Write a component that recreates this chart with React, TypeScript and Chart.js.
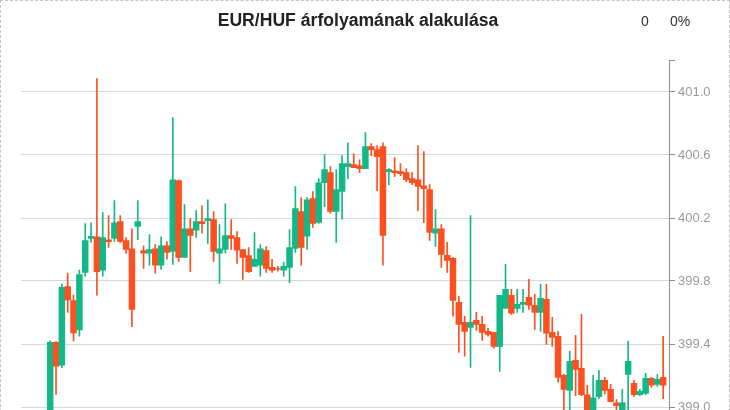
import { useEffect, useRef } from "react";
import { Chart, registerables } from "chart.js";

Chart.register(...registerables);

const TITLE = "EUR/HUF árfolyamának alakulása";
const CHANGE_ABS = "0";
const CHANGE_PCT = "0%";

const OPEN = [
  398.9, 399.41, 399.265, 399.764, 399.675, 399.49, 399.855, 400.071, 400.081, 399.868,
  400.062, 400.071, 400.177, 400.056, 400.005, 400.147, 399.993, 399.976, 400.005, 399.9,
  400.024, 399.988, 400.437, 399.95, 400.132, 400.122, 400.177, 400.183, 400.19, 399.976,
  400.0, 400.088, 400.075, 399.999, 399.961, 399.893, 399.9, 399.993, 399.887, 399.879,
  399.868, 399.887, 400.007, 400.24, 400.084, 400.323, 400.172, 400.424, 400.488, 400.242,
  400.369, 400.526, 400.539, 400.532, 400.513, 400.653, 400.634, 400.653, 400.494, 400.5,
  400.494, 400.488, 400.45, 400.443, 400.405, 400.38, 400.103, 400.132, 399.963, 399.944,
  399.665, 399.538, 399.506, 399.55, 399.525, 399.48, 399.474, 399.385, 399.626, 399.709,
  399.626, 399.652, 399.696, 399.646, 399.601, 399.684, 399.474, 399.449, 399.201, 399.106,
  399.296, 399.245, 399.078, 398.93, 399.066, 399.169, 399.112, 399.027, 398.95, 399.207,
  399.15, 399.078, 399.087, 399.182, 399.144, 399.188,
];
const HIGH = [
  399.42, 399.415, 399.78, 399.85, 399.71, 399.87, 400.165, 400.17, 401.085, 400.234,
  400.215, 400.31, 400.215, 400.075, 400.132, 400.31, 400.024, 400.094, 400.031, 400.081,
  400.05, 400.837, 400.443, 400.285, 400.196, 400.247, 400.278, 400.316, 400.24, 400.158,
  400.29, 400.19, 400.113, 399.999, 400.012, 400.107, 400.031, 400.018, 399.938, 399.893,
  399.918, 400.126, 400.4, 400.329, 400.329, 400.367, 400.45, 400.602, 400.526, 400.507,
  400.596, 400.678, 400.608, 400.57, 400.742, 400.672, 400.66, 400.678, 400.513, 400.583,
  400.545, 400.513, 400.488, 400.66, 400.621, 400.412, 400.253, 400.158, 400.045, 399.95,
  399.703, 399.576, 400.215, 399.601, 399.576, 399.499, 399.474, 399.709, 399.906, 399.747,
  399.747, 399.747, 399.81, 399.715, 399.779, 399.779, 399.569, 399.48, 399.207, 399.353,
  399.455, 399.588, 399.138, 399.201, 399.233, 399.188, 399.144, 399.047, 399.112, 399.417,
  399.169, 399.112, 399.214, 399.188, 399.207, 399.449,
];
const LOW = [
  398.85, 399.08, 399.25, 399.6, 399.42, 399.45, 399.83, 400.045, 399.71, 399.83,
  400.014, 400.052, 400.045, 399.976, 399.51, 400.062, 399.88, 399.9, 399.849, 399.874,
  399.938, 399.906, 399.925, 399.95, 399.86, 400.077, 400.103, 400.039, 399.925, 399.785,
  399.976, 400.0, 399.912, 399.81, 399.855, 399.893, 399.83, 399.855, 399.855, 399.862,
  399.83, 399.79, 399.982, 399.9, 400.0, 400.14, 400.166, 400.272, 400.23, 400.045,
  400.192, 400.45, 400.52, 400.488, 400.513, 400.596, 400.374, 399.9, 400.412, 400.462,
  400.469, 400.43, 400.412, 400.247, 400.17, 400.058, 400.02, 399.887, 399.855, 399.576,
  399.347, 399.322, 399.252, 399.487, 399.423, 399.449, 399.373, 399.226, 399.626, 399.588,
  399.601, 399.601, 399.62, 399.493, 399.48, 399.398, 399.385, 399.157, 398.95, 398.95,
  399.072, 399.072, 398.9, 398.9, 399.053, 399.083, 399.034, 398.98, 398.93, 398.983,
  399.066, 399.072, 399.078, 399.125, 399.131, 399.053,
];
const CLOSE = [
  399.41, 399.26, 399.76, 399.68, 399.47, 399.84, 400.056, 400.084, 399.86, 400.075,
  400.05, 400.17, 400.052, 400.0, 399.62, 400.177, 399.976, 399.999, 399.9, 400.024,
  399.982, 400.443, 399.95, 400.132, 400.09, 400.177, 400.164, 400.196, 399.988, 400.005,
  400.088, 400.071, 399.995, 399.95, 399.86, 399.938, 400.005, 399.88, 399.868, 399.875,
  399.893, 400.012, 400.26, 400.014, 400.316, 400.166, 400.424, 400.507, 400.242, 400.38,
  400.545, 400.545, 400.52, 400.513, 400.653, 400.634, 400.59, 400.09, 400.507, 400.488,
  400.481, 400.443, 400.424, 400.4, 400.386, 400.109, 400.132, 399.969, 399.931, 399.677,
  399.525, 399.48, 399.538, 399.525, 399.474, 399.461, 399.385, 399.709, 399.747, 399.595,
  399.652, 399.665, 399.646, 399.601, 399.69, 399.468, 399.442, 399.188, 399.112, 399.29,
  399.239, 399.078, 398.93, 399.059, 399.169, 399.106, 399.034, 399.008, 399.027, 399.29,
  399.078, 399.1, 399.182, 399.138, 399.176, 399.138,
];
const Y_TICKS = [399.0, 399.4, 399.8, 400.2, 400.6, 401.0];

const GREEN = "#12b886";
const RED = "#fc5021";

export default function App() {
  const ref = useRef<HTMLCanvasElement>(null);

  useEffect(() => {
    document.body.style.margin = "0";
    const idx = OPEN.map((_, i) => i);
    const colors = idx.map((i) => (CLOSE[i] >= OPEN[i] ? GREEN : RED));
    const chart = new Chart(ref.current as HTMLCanvasElement, {
      type: "bar",
      data: {
        datasets: [
          {
            label: "wick",
            data: idx.map((i) => ({ x: i, y: [LOW[i], HIGH[i]] })) as any,
            backgroundColor: colors,
            borderWidth: 0,
            barThickness: 1,
            grouped: false,
            order: 2,
          } as any,
          {
            label: "body",
            data: idx.map((i) => ({ x: i, y: [OPEN[i], CLOSE[i]] })) as any,
            backgroundColor: colors,
            borderWidth: 0,
            barPercentage: 1,
            categoryPercentage: 1,
            grouped: false,
            order: 1,
          } as any,
        ],
      },
      options: {
        animation: false,
        responsive: false,
        devicePixelRatio: 1,
        layout: { padding: { left: 20, right: 10, top: 59.5, bottom: 21 } },
        plugins: { legend: { display: false }, tooltip: { enabled: false }, title: { display: false } },
        scales: {
          x: { type: "linear", min: -5, max: 106, display: false, offset: false },
          y: {
            type: "linear",
            position: "right",
            min: 398.6,
            max: 401.2,
            afterBuildTicks: (s: any) => {
              s.ticks = [...Y_TICKS, 401.2].map((v) => ({ value: v }));
            },
            afterFit: (s: any) => {
              s.width = 50;
            },
            grid: {
              color: (c: any) => (c.tick && c.tick.value > 401.1 ? "rgba(0,0,0,0)" : "#d5d8dc"),
              tickColor: "#8c8c8c",
              tickLength: 6,
              lineWidth: 1,
            },
            border: { display: true, color: "#8c8c8c", width: 1 },
            ticks: {
              color: "#9b9b9b",
              font: { family: "'Liberation Sans', Arial, sans-serif", size: 13 },
              padding: 3,
              autoSkip: false,
              callback: (v: any) => (Number(v) > 401.1 ? "" : Number(v).toFixed(1)),
            },
          },
        },
      },
    });
    return () => chart.destroy();
  }, []);

  return (
    <div
      style={{
        position: "absolute",
        left: 0,
        top: 0,
        width: 730,
        height: 492,
        border: "1px dashed #c4c4c4",
        boxSizing: "border-box",
        fontFamily: "'Liberation Sans', Arial, sans-serif",
      }}
    >
      <canvas ref={ref} width={728} height={490} style={{ position: "absolute", left: 0, top: 0, width: 728, height: 490 }} />
      <div
        style={{
          position: "absolute",
          left: 0,
          top: 7,
          width: 714,
          textAlign: "center",
          fontSize: 17.6,
          lineHeight: "24px",
          fontWeight: "bold",
          color: "#222",
        }}
      >
        {TITLE}
      </div>
      <span style={{ position: "absolute", left: 640, top: 10, fontSize: 14, lineHeight: "20px", color: "#333" }}>{CHANGE_ABS}</span>
      <span style={{ position: "absolute", left: 669, top: 10, fontSize: 14, lineHeight: "20px", color: "#333" }}>{CHANGE_PCT}</span>
    </div>
  );
}
